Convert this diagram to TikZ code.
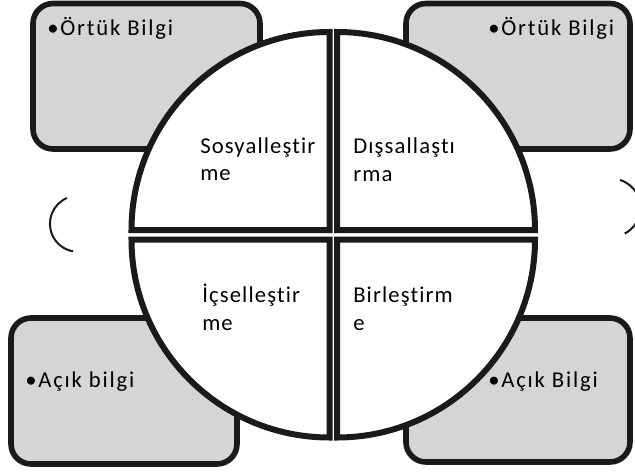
\documentclass[tikz,border=0pt]{standalone}
\usepackage{fontspec}
\setmainfont{Carlito}
\newfontfamily\boxfont[LetterSpace=8,Ligatures=NoCommon]{Carlito}
\newfontfamily\quadfont[LetterSpace=5,Ligatures=NoCommon]{Carlito}
\definecolor{boxgray}{RGB}{212,213,215}
\definecolor{edge}{RGB}{26,26,26}
\begin{document}
\begin{tikzpicture}[x=0.75pt,y=0.75pt,
  box/.style={draw=edge, fill=boxgray, line width=4.2pt, rounded corners=15pt},
  quad/.style={draw=edge, fill=white, line width=4.5pt, line join=miter},
  boxtext/.style={anchor=base west, inner sep=0pt, font=\boxfont\fontsize{17}{20}\selectfont},
  quadtext/.style={anchor=base west, inner sep=0pt, font=\quadfont\fontsize{17}{20}\selectfont},
  paren/.style={draw=edge, line width=1.5pt}]
\clip (0,0) rectangle (635,-471);
\path[use as bounding box] (0,0) rectangle (635,-471);
% corner boxes
\draw[box] (33,-3.5) rectangle (260,-149);
\draw[box] (406,-3.5) rectangle (630,-149);
\draw[box] (11,-318) rectangle (237,-464);
\draw[box] (406,-318) rectangle (630,-462);
% quadrants
\draw[quad] (329.5,-230) -- ++(-198,0) arc[start angle=180, end angle=90, radius=198] -- cycle;
\draw[quad] (337,-230) -- ++(0,198) arc[start angle=90, end angle=0, radius=198] -- cycle;
\draw[quad] (329.5,-239.5) -- ++(0,-198) arc[start angle=270, end angle=180, radius=198] -- cycle;
\draw[quad] (337,-239.5) -- ++(198,0) arc[start angle=0, end angle=-90, radius=198] -- cycle;
% parentheses
\draw[paren] (67,-198) arc[start angle=113, end angle=260, radius=28];
\draw[paren] (620,-180) arc[start angle=73, end angle=-63, radius=29];
% box texts
\node[boxtext] (t1) at (47,-36) {•Örtük Bilgi};
\node[boxtext] (t2) at (488,-36) {•Örtük Bilgi};
\node[boxtext] (t3) at (25,-387) {•Açık bilgi};
\node[boxtext] (t4) at (488,-387) {•Açık Bilgi};
% quadrant texts
\node[quadtext] (q1a) at (200,-153) {Sosyalleştir};
\node[quadtext] (q1b) at (200,-180) {me};
\node[quadtext] (q2a) at (353,-153) {Dışsallaştı};
\node[quadtext] (q2b) at (353,-181) {rma};
\node[quadtext] (q3a) at (202,-302) {İçselleştir};
\node[quadtext] (q3b) at (202,-330) {me};
\node[quadtext] (q4a) at (353,-302) {Birleştirm};
\node[quadtext] (q4b) at (353,-330) {e};
\end{tikzpicture}
\end{document}
